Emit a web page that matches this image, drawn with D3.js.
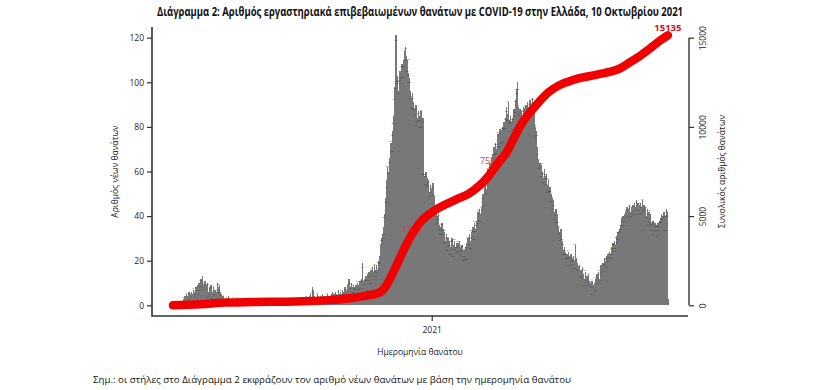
<!DOCTYPE html>
<html>
<head>
<meta charset="utf-8">
<script src="https://cdn.jsdelivr.net/npm/d3@7"></script>
<style>
  body { margin: 0; background: #fff; }
  text { font-family: "Liberation Sans Narrow", "Open Sans", sans-serif; }
</style>
</head>
<body>
<div id="chartDiv"></div>
<script>
// daily new deaths by date of death, starting 27 Feb 2020
const firstDay = "2020-02-27";
const deaths2020 = [
  0,0,1,
  0,1,0,1,1,0,2,1,2,3, 2,4,3,5,4,3,6,5,4,6, 5,7,4,6,8,6,9,7,10,8, 12,
  10,13,9,8,11,7,9,10,6,8, 7,9,5,6,8,5,7,4,6,10, 8,9,6,5,4,3,4,2,3,3,
  3,2,4,3,2,3,1,2,3,2, 2,1,3,2,1,2,1,3,2,1, 2,1,1,2,0,1,2,1,1,0, 1,
  1,0,2,1,1,0,1,2,1,0, 1,1,0,2,1,1,0,1,1,2, 1,0,1,1,0,1,2,1,0,1,
  1,0,1,2,1,0,1,1,2,1, 0,1,1,0,2,1,1,0,1,2, 1,1,0,1,2,1,2,1,2,3, 2,
  2,3,2,4,3,2,3,4,5,3, 8,7,3,4,2,3,5,4,3,2, 4,3,5,4,3,2,4,3,5,4, 3,
  4,3,5,6,4,5,3,6,5,4, 7,5,4,6,5,7,6,5,8,6, 7,9,6,12,8,7,10,8,9,7,
  8,9,7,10,8,9,11,10,12,19, 11,9,12,13,10,14,12,15,13,16, 14,17,15,18,16,15,18,16,20,18, 22,
  27,30,32,35,39,41,48,56,62,60, 66,64,73,70,78,85,92,98,121,103, 100,96,103,105,99,108,104,110,114,116,
  112,108,110,104,102,96,93,89,95,91, 88,86,90,84,82,87,85,83,87,81, 84,62,58,55,60,57,53,56,51,54, 52
];
const deaths2021 = [
  50,55,47,49,45,42,40,38,41,36, 35,33,37,34,31,33,29,32,28,30, 27,29,26,28,30,27,25,29,26,28, 27,
  28,25,29,26,24,27,22,25,20,26, 28,24,30,28,32,29,33,31,35,33, 37,34,38,40,42,39,43,41,
  44,47,50,48,53,55,52,57,61,58, 64,62,66,63,68,71,67,73,70,74, 77,72,79,76,78,80,75,82,79,84, 89,
  86,91,83,80,85,82,84,81,88,86, 92,97,100,89,86,88,85,87,84,89, 86,88,90,87,91,86,89,92,88,90,
  93,89,91,80,76,78,71,65,62,64, 61,63,60,57,61,58,55,59,54,56, 52,53,50,48,44,47,42,40,43,39, 41,
  35,33,31,34,29,28,25,26,24,22, 23,21,24,22,20,23,21,19,22,20, 27,21,18,19,17,18,15,16,14,17,
  14,12,15,11,13,12,14,11,10,8, 11,9,7,10,12,11,14,13,15,12, 16,18,15,19,17,21,20,22,19,23, 21,
  24,23,26,25,28,26,29,27,31,30, 33,32,34,36,39,37,40,38,41,42, 40,44,41,43,45,42,44,41,45,43, 46,
  44,47,43,46,45,42,46,44,47,43, 45,41,44,40,43,39,42,38,41,37, 36,38,34,37,35,36,33,37,35,38,
  39,41,38,40,42,37,40,43,42,3
];

// cumulative deaths
const cumDates = [
  "2020-02-27","2020-03-31","2020-04-30","2020-05-31","2020-06-30","2020-07-31",
  "2020-08-31","2020-09-30","2020-10-15","2020-10-31","2020-11-07","2020-11-14",
  "2020-11-21","2020-11-28","2020-12-05","2020-12-12","2020-12-19","2020-12-26",
  "2021-01-02","2021-01-16","2021-01-31","2021-02-14","2021-02-28","2021-03-10",
  "2021-03-20","2021-03-31","2021-04-10","2021-04-20","2021-04-30","2021-05-10",
  "2021-05-22","2021-06-01","2021-06-12","2021-06-25","2021-07-10","2021-07-21",
  "2021-08-01","2021-08-14","2021-08-25","2021-09-07","2021-09-20","2021-10-01","2021-10-10"
];
const cumValues = [
  0,60,150,180,200,220,
  290,420,540,720,1050,1650,
  2350,3050,3700,4250,4700,5000,
  5250,5620,5950,6250,6750,7250,
  7900,8550,9450,10300,10900,11450,
  12000,12300,12520,12720,12860,12970,
  13080,13280,13600,13990,14450,14850,15135
];

const markDates = ["2020-12-09", "2021-03-13", "2021-10-10"];
const markValues = [3784, 7568, 15135];
const markBold = [false, false, true];

const leftTicks = [0, 20, 40, 60, 80, 100, 120];
const rightTicks = [0, 5000, 10000, 15000];
const xTickDates = ["2021-01-01"];
const xTickLabels = ["2021"];

const titleText = "Διάγραμμα 2: Αριθμός εργαστηριακά επιβεβαιωμένων θανάτων με COVID-19 στην Ελλάδα, 10 Οκτωβρίου 2021";
const leftTitle = "Αριθμός νέων θανάτων";
const rightTitle = "Συνολικός αριθμός θανάτων";
const xTitle = "Ημερομηνία θανάτου";
const noteText = "Σημ.: οι στήλες στο Διάγραμμα 2 εκφράζουν τον αριθμό νέων θανάτων με βάση την ημερομηνία θανάτου";

const parse = d3.timeParse("%Y-%m-%d");
const start = parse(firstDay);
const daily = deaths2020.concat(deaths2021).map((v, i) => ({date: d3.timeDay.offset(start, i), value: v, i: i}));
const cumulative = cumDates.map((d, i) => ({date: parse(d), value: cumValues[i]}));

const width = 840, height = 390;
const plot = {left: 152, right: 688, top: 27, bottom: 316};
const fontStack = "\"Liberation Sans Narrow\", \"Open Sans\", sans-serif";

const x = d3.scaleTime()
  .domain([parse("2020-02-02"), parse("2021-11-03")])
  .range([plot.left, plot.right]);
const yL = d3.scaleLinear().domain([-4.8, 124.8]).range([plot.bottom, plot.top]);
const yR = d3.scaleLinear().domain([-600, 15600]).range([plot.bottom, plot.top]);

const svg = d3.select("#chartDiv").append("svg")
  .attr("width", width)
  .attr("height", height)
  .attr("viewBox", [0, 0, width, height]);

const step = x(d3.timeDay.offset(start, 1)) - x(start);

// bars
svg.append("g")
  .attr("fill", "#787878")
  .attr("shape-rendering", "crispEdges")
  .selectAll("rect")
  .data(daily)
  .join("rect")
  .attr("x", d => x(d.date) - step / 2)
  .attr("width", step + 0.6)
  .attr("y", d => yL(d.value))
  .attr("height", d => yL(0) - yL(d.value));

// tiny value labels near the bar tops, staggered a little
svg.append("g")
  .attr("fill", "#2a2a2a")
  .attr("font-size", 2.4)
  .attr("text-anchor", "middle")
  .selectAll("text")
  .data(daily)
  .join("text")
  .attr("x", d => x(d.date))
  .attr("y", d => Math.min(yL(0) - 1, yL(d.value) + (d.i % 4) * 2.8 - 0.5))
  .text(d => d.value);

// labels of cumulative line (drawn under the line)
const marks = markDates.map((d, i) => ({date: parse(d), value: markValues[i], bold: markBold[i]}));
svg.append("g")
  .selectAll("text")
  .data(marks.filter(d => !d.bold))
  .join("text")
  .attr("x", d => x(d.date) - 1)
  .attr("y", d => yR(d.value) - 6)
  .attr("text-anchor", "middle")
  .attr("font-size", 9)
  .attr("fill", "#e23a3a")
  .text(d => d.value);

// cumulative line
const line = d3.line()
  .x(d => x(d.date))
  .y(d => yR(d.value))
  .curve(d3.curveMonotoneX);

svg.append("path")
  .datum(cumulative)
  .attr("fill", "none")
  .attr("stroke", "#f00000")
  .attr("stroke-width", 8.5)
  .attr("stroke-linecap", "round")
  .attr("stroke-linejoin", "round")
  .attr("d", line);

// final total on top of the line
svg.append("g")
  .selectAll("text")
  .data(marks.filter(d => d.bold))
  .join("text")
  .attr("x", d => x(d.date))
  .attr("y", d => yR(d.value) - 4)
  .attr("text-anchor", "middle")
  .attr("font-size", 9.5)
  .attr("font-weight", "bold")
  .attr("fill", "#c8141e")
  .text(d => d.value);

// frame: left and bottom lines
svg.append("path")
  .attr("d", `M${plot.left},${plot.top}V${plot.bottom}H${plot.right}`)
  .attr("fill", "none")
  .attr("stroke", "#333")
  .attr("stroke-width", 1.6);

// left axis
svg.append("g")
  .attr("transform", `translate(${plot.left},0)`)
  .call(d3.axisLeft(yL).tickValues(leftTicks).tickSize(5).tickPadding(3))
  .call(g => g.select(".domain").remove())
  .call(g => g.selectAll("line").attr("stroke", "#333").attr("stroke-width", 1.2))
  .call(g => g.selectAll("text").attr("font-size", 8.5).attr("fill", "#222").attr("font-family", fontStack));

// right axis
svg.append("g")
  .attr("transform", `translate(${plot.right + 1},0)`)
  .call(d3.axisRight(yR).tickValues(rightTicks).tickFormat(d3.format("d")).tickSize(5).tickSizeOuter(0).tickPadding(3))
  .call(g => g.select(".domain").attr("d", `M0,${yR(0)}V${yR(15000)}`).attr("stroke", "#333").attr("stroke-width", 1.4))
  .call(g => g.selectAll("line").attr("stroke", "#333").attr("stroke-width", 1.2))
  .call(g => g.selectAll("text")
    .attr("font-size", 8.5).attr("fill", "#222").attr("font-family", fontStack)
    .attr("x", 0).attr("dy", null)
    .attr("text-anchor", "middle")
    .attr("transform", "translate(13,0) rotate(-90)")
    .attr("dominant-baseline", "central"));

// x axis tick
svg.append("g")
  .attr("transform", `translate(0,${plot.bottom})`)
  .call(d3.axisBottom(x).tickValues(xTickDates.map(parse)).tickFormat((d, i) => xTickLabels[i]).tickSize(5).tickPadding(6))
  .call(g => g.select(".domain").remove())
  .call(g => g.selectAll("line").attr("stroke", "#333").attr("stroke-width", 1.2))
  .call(g => g.selectAll("text").attr("font-size", 8.5).attr("fill", "#222").attr("font-family", fontStack));

const midY = (plot.top + plot.bottom) / 2;

svg.append("text")
  .attr("transform", `translate(118,${midY}) rotate(-90)`)
  .attr("text-anchor", "middle")
  .attr("font-size", 8.5)
  .attr("fill", "#222")
  .text(leftTitle);

svg.append("text")
  .attr("transform", `translate(725,${midY}) rotate(-90)`)
  .attr("text-anchor", "middle")
  .attr("font-size", 8.5)
  .attr("fill", "#222")
  .text(rightTitle);

svg.append("text")
  .attr("x", (plot.left + plot.right) / 2)
  .attr("y", 355)
  .attr("text-anchor", "middle")
  .attr("font-size", 8.5)
  .attr("fill", "#222")
  .text(xTitle);

svg.append("text")
  .attr("x", 420)
  .attr("y", 16)
  .attr("text-anchor", "middle")
  .attr("font-size", 11.5)
  .attr("font-weight", "bold")
  .attr("fill", "#111")
  .attr("textLength", 526)
  .attr("lengthAdjust", "spacingAndGlyphs")
  .text(titleText);

svg.append("text")
  .attr("x", 93)
  .attr("y", 383)
  .attr("font-size", 9)
  .attr("fill", "#111")
  .attr("textLength", 478)
  .attr("lengthAdjust", "spacingAndGlyphs")
  .text(noteText);
</script>
</body>
</html>
